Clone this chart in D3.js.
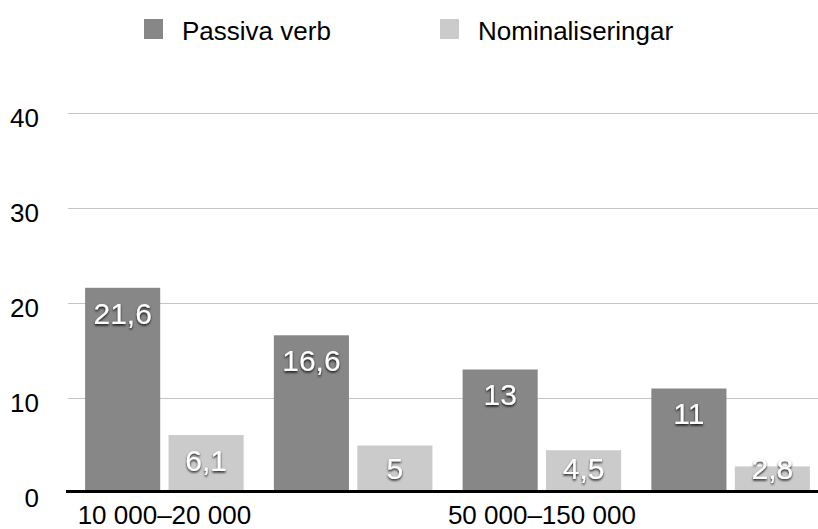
<!DOCTYPE html>
<html>
<head>
<meta charset="utf-8">
<script src="https://cdn.jsdelivr.net/npm/d3@7"></script>
<style>
    body { margin: 0; background: #fff; }
    svg { display: block; font-family: "Liberation Sans", Arial, Helvetica, sans-serif; }
</style>
</head>
<body>
<div id="chart"></div>
<script>
(function () {
    'use strict';

    // data
    var categories = ['10 000–20 000', '20 000–50 000', '50 000–150 000', '150 000–'];
    var shownTicks = ['10 000–20 000', '50 000–150 000'];
    var seriesNames = ['Passiva verb', 'Nominaliseringar'];
    var passivaVerb = [21.6, 16.6, 13, 11];
    var nominaliseringar = [6.1, 5, 4.5, 2.8];
    var yTicks = [0, 10, 20, 30, 40];

    var w = 818,
        h = 529,
        colors = ['#878787', '#cbcbcb'],
        values = [passivaVerb, nominaliseringar];

    var svg = d3.select('#chart')
        .append('svg')
        .attr('width', w)
        .attr('height', h);

    var defs = svg.append('defs');
    defs.append('filter')
        .attr('id', 'shadow')
        .attr('x', '-20%').attr('y', '-20%')
        .attr('width', '140%').attr('height', '160%')
        .append('feDropShadow')
        .attr('dx', 0).attr('dy', 1.5)
        .attr('stdDeviation', 1.2)
        .attr('flood-color', '#000')
        .attr('flood-opacity', 0.9);

    var x0 = d3.scaleBand()
        .domain(categories)
        .range([70, 825])
        .paddingInner(0.16)
        .paddingOuter(0.08);

    var x1 = d3.scaleBand()
        .domain(seriesNames)
        .range([0, x0.bandwidth()])
        .paddingInner(0.1);

    var y = d3.scaleLinear()
        .domain([0, 40])
        .range([493, 113]);

    // gridlines + y labels
    var yAxis = svg.append('g')
        .attr('transform', 'translate(68,0)')
        .call(d3.axisLeft(y).tickValues(yTicks).tickSize(-(w - 68)).tickPadding(29));
    yAxis.select('.domain').remove();
    yAxis.selectAll('.tick line')
        .attr('stroke', '#c4c4c4')
        .attr('stroke-width', 1)
        .attr('display', function (d) { return d === 0 ? 'none' : null; });
    yAxis.selectAll('.tick text')
        .attr('fill', '#000')
        .attr('font-size', 26)
        .attr('dy', '0.5em');

    // bars
    var groups = svg.append('g').selectAll('g')
        .data(categories)
        .enter().append('g')
        .attr('transform', function (d) { return 'translate(' + x0(d) + ',0)'; });

    groups.each(function (cat, ci) {
        var g = d3.select(this);
        seriesNames.forEach(function (s, si) {
            var v = values[si][ci];
            g.append('rect')
                .attr('x', x1(s))
                .attr('y', y(v))
                .attr('width', x1.bandwidth())
                .attr('height', y(0) - y(v))
                .attr('fill', colors[si]);
            var cy = Math.min(y(v) + 25, y(0) - 25);
            g.append('text')
                .attr('x', x1(s) + x1.bandwidth() / 2)
                .attr('y', cy)
                .attr('dy', '0.36em')
                .attr('text-anchor', 'middle')
                .attr('font-size', 30)
                .attr('fill', '#fff')
                .attr('filter', 'url(#shadow)')
                .text(String(v).replace('.', ','));
        });
    });

    // baseline
    svg.append('line')
        .attr('x1', 66).attr('x2', w)
        .attr('y1', y(0) - 1.5).attr('y2', y(0) - 1.5)
        .attr('stroke', '#000')
        .attr('stroke-width', 3);

    // x labels
    var xAxis = svg.append('g')
        .attr('transform', 'translate(0,' + y(0) + ')')
        .call(d3.axisBottom(x0).tickSize(0).tickPadding(13)
            .tickFormat(function (d) { return shownTicks.indexOf(d) >= 0 ? d : ''; }));
    xAxis.select('.domain').remove();
    xAxis.selectAll('.tick text')
        .attr('fill', '#000')
        .attr('font-size', 26);

    // legend
    var legendX = [144, 440];
    var legend = svg.append('g').selectAll('g')
        .data(seriesNames)
        .enter().append('g')
        .attr('transform', function (d, i) { return 'translate(' + legendX[i] + ',19)'; });
    legend.append('rect')
        .attr('width', 19).attr('height', 20)
        .attr('fill', function (d, i) { return colors[i]; });
    legend.append('text')
        .attr('x', 38).attr('y', 21)
        .attr('font-size', 26)
        .attr('fill', '#000')
        .text(function (d) { return d; });
})();
</script>
</body>
</html>
